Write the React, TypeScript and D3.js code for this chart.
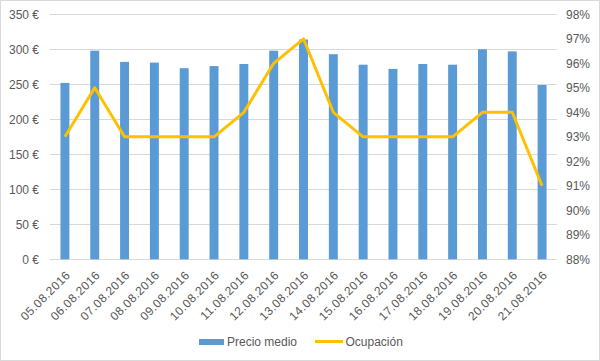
import React, { useRef, useEffect } from 'react';
import * as d3 from 'd3';

const dates = [
  '05.08.2016', '06.08.2016', '07.08.2016', '08.08.2016', '09.08.2016', '10.08.2016',
  '11.08.2016', '12.08.2016', '13.08.2016', '14.08.2016', '15.08.2016', '16.08.2016',
  '17.08.2016', '18.08.2016', '19.08.2016', '20.08.2016', '21.08.2016',
];
const precioMedio = [252, 298, 282, 281, 273, 276, 279, 298, 314, 293, 278, 272, 279, 278, 300, 297, 249];
const ocupacion = [93, 95, 93, 93, 93, 93, 94, 96, 97, 94, 93, 93, 93, 93, 94, 94, 91];
const euroTicks = [0, 50, 100, 150, 200, 250, 300, 350];
const pctTicks = [88, 89, 90, 91, 92, 93, 94, 95, 96, 97, 98];

const W = 600;
const H = 361;
const FONT = '"Liberation Sans", Arial, sans-serif';
const TXT = '#595959';

const App = () => {
  const svgRef = useRef<SVGSVGElement>(null);

  useEffect(() => {
    const svg = d3.select(svgRef.current);
    svg.selectAll('*').remove();

    const left = 50, right = 557, top = 14.3, bottom = 259.3;

    const x = d3.scaleBand<string>().domain(dates).range([left, right]).paddingInner(0.7).paddingOuter(0.35);
    const yL = d3.scaleLinear().domain([0, 350]).range([bottom, top]);
    const yR = d3.scaleLinear().domain([88, 98]).range([bottom, top]);

    // chart border
    svg.append('rect')
      .attr('x', 0.5).attr('y', 0.5).attr('width', W - 1).attr('height', H - 1)
      .attr('fill', '#fff').attr('stroke', '#d9d9d9');

    // gridlines
    svg.append('g').selectAll('line').data(euroTicks).join('line')
      .attr('x1', left).attr('x2', right)
      .attr('y1', d => Math.round(yL(d)) + 0.5).attr('y2', d => Math.round(yL(d)) + 0.5)
      .attr('stroke', '#d9d9d9').attr('stroke-width', 1);

    // left axis labels
    svg.append('g').selectAll('text').data(euroTicks).join('text')
      .attr('x', 39).attr('y', d => yL(d)).attr('dy', '0.35em')
      .attr('text-anchor', 'end').attr('font-family', FONT).attr('font-size', 12)
      .attr('fill', TXT).text(d => `${d} €`);

    // right axis labels
    svg.append('g').selectAll('text').data(pctTicks).join('text')
      .attr('x', 566).attr('y', d => yR(d)).attr('dy', '0.35em')
      .attr('font-family', FONT).attr('font-size', 12)
      .attr('fill', TXT).text(d => `${d}%`);

    // bars
    svg.append('g').selectAll('rect').data(dates).join('rect')
      .attr('x', d => x(d)!).attr('width', x.bandwidth())
      .attr('y', (d, i) => yL(precioMedio[i]))
      .attr('height', (d, i) => yL(0) - yL(precioMedio[i]))
      .attr('fill', '#5b9bd5');

    // line
    const line = d3.line<number>()
      .x((d, i) => x(dates[i])! + x.bandwidth() / 2)
      .y(d => yR(d));
    svg.append('path').datum(ocupacion)
      .attr('d', line).attr('fill', 'none')
      .attr('stroke', '#ffc000').attr('stroke-width', 3).attr('stroke-linejoin', 'round');

    // x labels
    svg.append('g').selectAll('text').data(dates).join('text')
      .attr('transform', d => `translate(${x(d)! + x.bandwidth() / 2 + 3},${273}) rotate(-45)`)
      .attr('text-anchor', 'end').attr('dy', '0.35em').attr('letter-spacing', 0.4)
      .attr('font-family', FONT).attr('font-size', 12).attr('fill', TXT)
      .text(d => d);

    // legend
    const lg = svg.append('g');
    lg.append('rect').attr('x', 199).attr('y', 339).attr('width', 25).attr('height', 6).attr('fill', '#5b9bd5');
    lg.append('text').attr('x', 227).attr('y', 342).attr('dy', '0.35em')
      .attr('font-family', FONT).attr('font-size', 12).attr('fill', TXT).text('Precio medio');
    lg.append('line').attr('x1', 315).attr('x2', 343).attr('y1', 341.5).attr('y2', 341.5)
      .attr('stroke', '#ffc000').attr('stroke-width', 3);
    lg.append('text').attr('x', 345.5).attr('y', 342).attr('dy', '0.35em')
      .attr('font-family', FONT).attr('font-size', 12).attr('fill', TXT).text('Ocupación');
  }, []);

  return (
    <div style={{ position: 'fixed', left: 0, top: 0 }}>
      <svg ref={svgRef} width={W} height={H} style={{ display: 'block' }} />
    </div>
  );
};

export default App;
